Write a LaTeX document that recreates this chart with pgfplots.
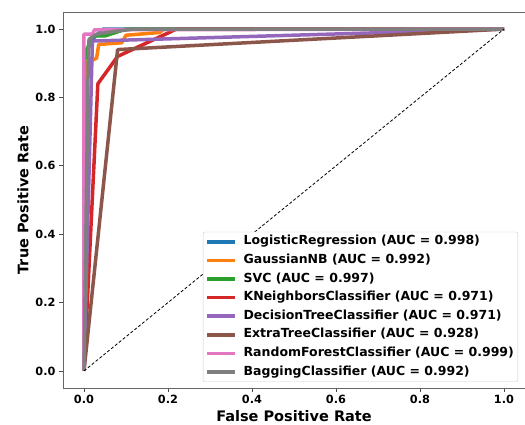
\documentclass[border=0pt]{standalone}
\usepackage{pgfplots}
\pgfplotsset{compat=1.18}
\usepackage{fontspec}
\setmainfont{DejaVu Sans}
\definecolor{c1}{HTML}{1F77B4}
\definecolor{c2}{HTML}{FF7F0E}
\definecolor{c3}{HTML}{2CA02C}
\definecolor{c4}{HTML}{D62728}
\definecolor{c5}{HTML}{9467BD}
\definecolor{c6}{HTML}{8C564B}
\definecolor{c7}{HTML}{E377C2}
\definecolor{c8}{HTML}{7F7F7F}
\begin{document}
\begin{tikzpicture}
\begin{axis}[name=ax, width=462pt, height=376pt, scale only axis,
  xmin=-0.05, xmax=1.05, ymin=-0.05, ymax=1.05,
  xtick={0,0.2,0.4,0.6,0.8,1.0}, ytick={0,0.2,0.4,0.6,0.8,1.0},
  tick align=outside, tick pos=left, major tick length=4pt,
  axis line style={black!60, line width=0.8pt},
  tick style={black!70, line width=0.8pt},
  /pgf/number format/assume math mode=true,
  ticklabel style={font=\bfseries\fontsize{11.3}{13}\selectfont},
  xticklabel style={/pgf/number format/.cd, fixed, fixed zerofill, precision=1},
  yticklabel style={/pgf/number format/.cd, fixed, fixed zerofill, precision=1},
  xlabel={False Positive Rate}, ylabel={True Positive Rate},
  label style={font=\bfseries\fontsize{14.5}{16}\selectfont},
  legend cell align=left,
  legend style={at={(rel axis cs:0.985,0.016)}, anchor=south east, draw=black!20, rounded corners=2pt, fill=white,
    font=\bfseries\fontsize{12.5}{14}\selectfont, inner sep=2pt, row sep=3pt,
    nodes={inner sep=2pt, text height=9pt, text depth=2.6pt}},
  legend image code/.code={\draw[#1, line width=3.5pt] (0pt,0pt) -- (28pt,0pt); \path (33pt,0pt);},
  every axis plot/.append style={line width=3.5pt, line join=round},
]
\addplot[c1] coordinates {(0,0) (0,0.93) (0.012,0.95) (0.024,0.975) (0.045,1) (1,1)};
\addlegendentry{LogisticRegression (AUC = 0.998)}
\addplot[c2] coordinates {(0,0) (0.005,0.9) (0.03,0.915) (0.035,0.955) (0.09,0.96) (0.1,0.982) (0.18,0.99) (0.19,1) (1,1)};
\addlegendentry{GaussianNB (AUC = 0.992)}
\addplot[c3] coordinates {(0,0) (0,0.9) (0.01,0.95) (0.02,0.98) (0.05,0.98) (0.1,1) (1,1)};
\addlegendentry{SVC (AUC = 0.997)}
\addplot[c4] coordinates {(0,0) (0.033,0.84) (0.08,0.92) (0.22,1) (1,1)};
\addlegendentry{KNeighborsClassifier (AUC = 0.971)}
\addplot[c5] coordinates {(0,0) (0.02,0.965) (1,1)};
\addlegendentry{DecisionTreeClassifier (AUC = 0.971)}
\addplot[c6] coordinates {(0,0) (0.08,0.94) (1,1)};
\addlegendentry{ExtraTreeClassifier (AUC = 0.928)}
\addplot[c7] coordinates {(0,0) (0,0.985) (0.02,0.985) (0.025,0.998) (1,1)};
\addlegendentry{RandomForestClassifier (AUC = 0.999)}
\addplot[c8] coordinates {(0,0) (0.01,0.9) (0.012,0.97) (0.03,0.985) (0.07,0.993) (0.12,1) (1,1)};
\addlegendentry{BaggingClassifier (AUC = 0.992)}
\addplot[black, line width=0.8pt, dash pattern=on 3pt off 2pt, forget plot] coordinates {(0,0) (1,1)};
\end{axis}
\pgfresetboundingbox
\path ([xshift=-63pt,yshift=-37pt]ax.south west) rectangle ([yshift=12pt]ax.north east);
\end{tikzpicture}
\end{document}
